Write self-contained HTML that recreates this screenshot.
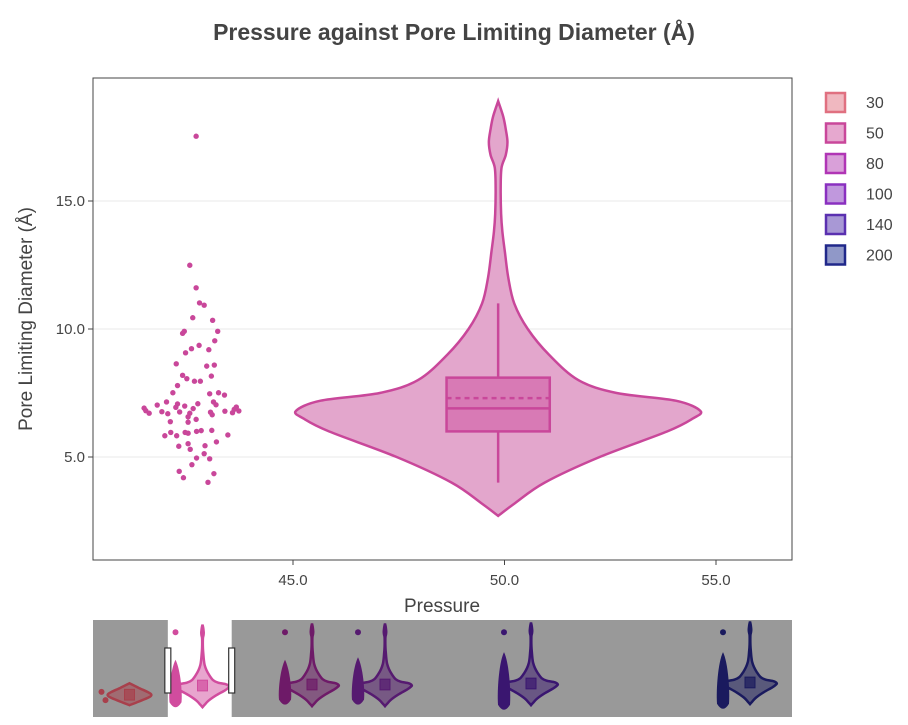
<!DOCTYPE html>
<html><head><meta charset="utf-8"><style>
body{margin:0;background:#fff;font-family:"Liberation Sans",Arial,sans-serif}
svg text{font-family:"Liberation Sans",Arial,sans-serif;fill:#444}
</style></head><body>
<svg id="chart" width="908" height="720" xmlns="http://www.w3.org/2000/svg">
<text x="454" y="40" text-anchor="middle" font-size="23" font-weight="bold">Pressure against Pore Limiting Diameter (Å)</text>
<g id="grid"></g>
<g id="marks"></g>
<rect x="93" y="78" width="699" height="482" fill="none" stroke="#444" stroke-width="1"/>
<g id="axes"></g>
<text x="442" y="612" text-anchor="middle" font-size="19">Pressure</text>
<text transform="translate(32,319) rotate(-90)" text-anchor="middle" font-size="19">Pore Limiting Diameter (Å)</text>
<g id="legend"></g>
<g id="slider"></g>
</svg>
<script>
const NS='http://www.w3.org/2000/svg';
// ---- data ----
const xTicks=[45,50,55];
const yTicks=[5,10,15];
const pointX=[42.71,42.56,42.71,42.79,42.90,42.63,43.10,43.22,42.39,42.43,43.15,42.78,42.60,42.46,43.01,42.24,42.96,43.14,42.39,42.49,43.07,42.67,42.81,42.27,42.16,43.03,43.24,43.38,42.01,41.79,42.27,42.44,42.75,43.12,43.18,41.48,41.52,41.60,41.90,42.04,42.23,42.32,42.64,42.56,42.52,42.71,43.05,43.09,43.39,43.57,43.66,43.72,43.61,42.10,42.52,41.97,42.11,42.25,42.45,42.52,42.72,42.83,43.08,43.46,42.30,42.52,42.57,42.92,43.19,42.72,42.90,43.03,42.61,42.31,42.41,43.13,42.99];
const pointY=[17.53,12.49,11.61,11.02,10.93,10.44,10.34,9.91,9.83,9.91,9.54,9.36,9.23,9.07,9.19,8.64,8.55,8.59,8.19,8.06,8.16,7.96,7.96,7.79,7.51,7.47,7.51,7.42,7.15,7.03,7.07,6.99,7.08,7.15,7.04,6.91,6.81,6.71,6.77,6.69,6.94,6.76,6.89,6.71,6.57,6.47,6.75,6.65,6.79,6.73,6.95,6.80,6.86,6.38,6.36,5.83,5.96,5.83,5.96,5.93,6.00,6.03,6.04,5.86,5.42,5.52,5.30,5.44,5.59,4.96,5.13,4.93,4.70,4.44,4.19,4.35,4.01];
const violinY=[2.7,3.2,4,5,6,6.5,6.8,7.2,7.5,8,9,10,11,12,13,13.8,14.5,15.5,16.3,16.8,17.3,17.8,18.3,18.9];
const violinW=[0,0.4,1.1,2.4,4.0,4.6,4.78,4.2,2.8,1.9,1.2,0.7,0.38,0.24,0.16,0.1,0.07,0.06,0.08,0.18,0.22,0.18,0.12,0];
const violinCenter=49.85;
const boxStats={lo:4.0,q1:6.0,med:6.9,mean:7.3,q3:8.1,hi:11.0};
const boxHalf=1.22;
const legendLabels=['30','50','80','100','140','200'];
const legendStroke=['#e07080','#c9479a','#b035b5','#8a30c0','#5a30b0','#20288a'];
const legendFill=['#f0b8c0','#e6a8cf','#d9a0d9','#c098dd','#a898d5','#9098c8'];
const sliderCats=[30,50,80,100,140,200];
const sliderWindow=[40.5,58.0];
const sliderColor=['#a8404c','#d14c9e','#6e1a68','#561a70','#3a1670','#1a1a5e'];
const sliderShift=[-0.6,0,0.2,0.2,0.4,0.6];
const sliderPtTop=[4.0,17.4,17.4,17.4,17.4,17.4];
const sliderPtDense=[[2.1,3.2],[2.5,12],[3.0,12],[3.0,12.5],[2.0,13.5],[2.2,13.5]];
const mini30PtY=[5.7,4.1];
const miniY30=[3.1,3.8,4.6,5.1,5.6,6.5,7.4];
const miniW30=[0,2.5,5.2,6.0,5.2,2.5,0];
// ---- scales ----
const xs=v=>293+(v-45)*42.3;
const ys=v=>457-(v-5)*25.6;
const sx=v=>93+(v-20)*3.65;
const sy=v=>620+(19.8-v)*5.1;
function el(tag,attrs,parent){const e=document.createElementNS(NS,tag);for(const k in attrs)e.setAttribute(k,attrs[k]);parent.appendChild(e);return e;}
function smooth(pts){let d='M'+pts[0][0]+','+pts[0][1];for(let i=0;i<pts.length-1;i++){const p0=pts[i-1]||pts[i],p1=pts[i],p2=pts[i+1],p3=pts[i+2]||p2;d+=' C'+(p1[0]+(p2[0]-p0[0])/6)+','+(p1[1]+(p2[1]-p0[1])/6)+' '+(p2[0]-(p3[0]-p1[0])/6)+','+(p2[1]-(p3[1]-p1[1])/6)+' '+p2[0]+','+p2[1];}return d;}
function violinPath(cx,yArr,wArr,ysc,pxPerW){const r=yArr.map((y,i)=>[cx+wArr[i]*pxPerW,ysc(y)]);const l=yArr.map((y,i)=>[cx-wArr[i]*pxPerW,ysc(y)]).reverse();return smooth(r)+' L'+smooth(l).slice(1)+' Z';}
const grid=document.getElementById('grid'),marks=document.getElementById('marks'),axes=document.getElementById('axes');
yTicks.forEach(t=>{
 const g=el('line',{x1:93,x2:792,y1:ys(t),y2:ys(t),stroke:'#e8e8e8','stroke-width':1},grid);
 
 const l=el('line',{x1:88,x2:93,y1:ys(t),y2:ys(t),stroke:'#444'},axes);
 
 const tx=el('text',{x:85,y:ys(t)+5,'text-anchor':'end','font-size':15},axes);tx.textContent=t.toFixed(1);
 
});
xTicks.forEach(t=>{
 const l=el('line',{x1:xs(t),x2:xs(t),y1:560,y2:565,stroke:'#444'},axes);
 
 const tx=el('text',{x:xs(t),y:585,'text-anchor':'middle','font-size':15},axes);tx.textContent=t.toFixed(1);
 
});
// violin
const cxp=xs(violinCenter),pw=42.3;
const vp=el('path',{d:violinPath(cxp,violinY,violinW,ys,pw),fill:'#e3a6cc',stroke:'#c9479a','stroke-width':2.5},marks);

const wh=el('line',{x1:cxp,x2:cxp,y1:ys(boxStats.lo),y2:ys(boxStats.hi),stroke:'#c9479a','stroke-width':2.5},marks);

const bx=el('rect',{x:cxp-boxHalf*pw,y:ys(boxStats.q3),width:2*boxHalf*pw,height:ys(boxStats.q1)-ys(boxStats.q3),fill:'#d87ab5',stroke:'#c9479a','stroke-width':2.5},marks);

const md=el('line',{x1:cxp-boxHalf*pw,x2:cxp+boxHalf*pw,y1:ys(boxStats.med),y2:ys(boxStats.med),stroke:'#c9479a','stroke-width':2.5},marks);

const mn=el('line',{x1:cxp-boxHalf*pw,x2:cxp+boxHalf*pw,y1:ys(boxStats.mean),y2:ys(boxStats.mean),stroke:'#c9479a','stroke-width':2.5,'stroke-dasharray':'5,4'},marks);

pointX.forEach((x,i)=>{
 const c=el('circle',{cx:xs(x),cy:ys(pointY[i]),r:2.7,fill:'#c9479a'},marks);
 
});
// legend
const lg=document.getElementById('legend');
legendLabels.forEach((t,i)=>{
 const y=102+i*30.5;
 const r=el('rect',{x:826,y:y-9,width:19,height:19,fill:legendFill[i],stroke:legendStroke[i],'stroke-width':2.5},lg);
 
 const tx=el('text',{x:866,y:y+6,'font-size':16},lg);tx.textContent=t;
 
});
// slider
const sl=document.getElementById('slider');
const bg=el('rect',{x:93,y:620,width:699,height:97,fill:'#999'},sl);

const win=el('rect',{x:sx(sliderWindow[0]),y:620,width:sx(sliderWindow[1])-sx(sliderWindow[0]),height:97,fill:'#fff'},sl);

sliderCats.forEach((c,i)=>{
 const cx=sx(c),col=sliderColor[i];
 const sh=sliderShift[i];
 const syS=v=>sy(v+sh);
 let p;
 if(i===0){p=el('path',{d:violinPath(cx,miniY30,miniW30,sy,3.65),fill:col,'fill-opacity':0.5,stroke:col,'stroke-width':2.5},sl);}
 else{p=el('path',{d:violinPath(cx,violinY,violinW,syS,5.6),fill:col,'fill-opacity':0.5,stroke:col,'stroke-width':2.5},sl);}
 
 const mid=i===0?5.1:6.9+sh;
 const b=el('rect',{x:cx-5,y:sy(mid+1.1),width:10,height:sy(mid-1)-sy(mid+1.1),fill:col,'fill-opacity':0.7,stroke:col},sl);
 
 const px=cx-27;
 const d=sliderPtDense[i];
 if(i===0){
  mini30PtY.forEach((v,k)=>{
   const a=el('circle',{cx:px-1+k*4,cy:sy(v),r:3,fill:col},sl);
   
   
  });
 } else {
  const col2=el('path',{d:`M${px},${sy(d[1])} C${px+5},${sy(d[1])+10} ${px+7},${sy((d[0]+d[1])/2.6)} ${px+6},${sy(d[0])-6} Q${px},${sy(d[0])+4} ${px-6},${sy(d[0])-6} C${px-7},${sy((d[0]+d[1])/2.6)} ${px-5},${sy(d[1])+10} ${px},${sy(d[1])} Z`,fill:col},sl);
  
  const o=el('circle',{cx:px,cy:sy(sliderPtTop[i]),r:3,fill:col},sl);
  
 }
});
sliderWindow.forEach((v,k)=>{
 const x=sx(v);
 const h=el('rect',{x:x-3,y:648,width:6,height:45,fill:'#fff',stroke:'#333','stroke-width':1.2},sl);
 
});
</script>
</body></html>
